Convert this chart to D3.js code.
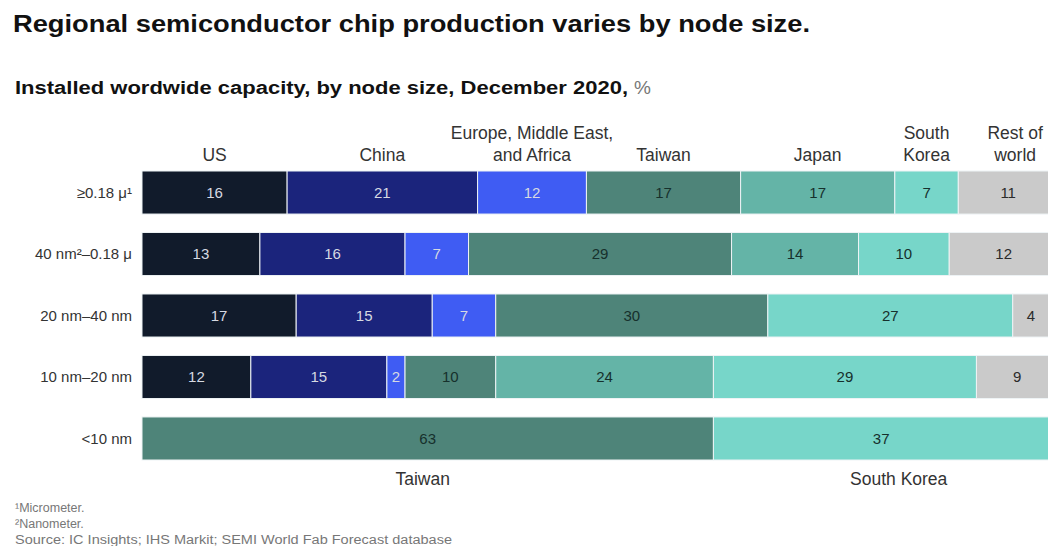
<!DOCTYPE html>
<html>
<head>
<meta charset="utf-8">
<script src="https://cdn.jsdelivr.net/npm/d3@7"></script>
<style>
  html, body { margin: 0; padding: 0; background: #fff; }
  svg { display: block; font-family: "Liberation Sans", Arial, sans-serif; }
</style>
</head>
<body>
<svg id="chart" width="1048" height="546"></svg>
<script>
// Node-size categories (rows)
const nodes = ["≥0.18 μ¹", "40 nm²–0.18 μ", "20 nm–40 nm", "10 nm–20 nm", "<10 nm"];
// Regions (stack order, left to right)
const regions = ["US", "China", "Europe, Middle East, and Africa", "Taiwan", "Japan", "South Korea", "Rest of world"];
// Installed capacity share, %, per region for each node row
const us     = [16, 13, 17, 12, 0];
const china  = [21, 16, 15, 15, 0];
const emea   = [12, 7, 7, 2, 0];
const taiwan = [17, 29, 30, 10, 63];
const japan  = [17, 14, 0, 24, 0];
const korea  = [7, 10, 27, 29, 37];
const rest   = [11, 12, 4, 9, 0];
// Column header lines
const headerLines = [["US"], ["China"], ["Europe, Middle East,", "and Africa"], ["Taiwan"], ["Japan"], ["South", "Korea"], ["Rest of", "world"]];
const footnotes = ["¹Micrometer.", "²Nanometer.", "Source: IC Insights; IHS Markit; SEMI World Fab Forecast database"];

const colors = ["#111b2b", "#1b247c", "#3f5cf3", "#4e8479", "#64b4a7", "#77d6c9", "#cacaca"];
const textColors = ["#d6d9e2", "#d6d9e2", "#d6d9e2", "#16302c", "#16302c", "#16302c", "#2b2b2b"];

const series = [us, china, emea, taiwan, japan, korea, rest];
const rows = nodes.map((n, i) => {
  const r = { node: n };
  regions.forEach((g, j) => r[g] = series[j][i]);
  return r;
});

const W = 1048, H = 546;
const svg = d3.select("#chart");

const x = d3.scaleLinear().domain([0, 100]).range([142, 1049]);
const y = d3.scaleBand().domain(nodes).range([171, 460]).paddingInner(0.3).paddingOuter(0);

const stack = d3.stack().keys(regions)(rows);

// Title and subtitle
svg.append("text").attr("x", 13).attr("y", 32)
  .attr("font-size", 23).attr("font-weight", 700).attr("fill", "#111")
  .attr("textLength", 797).attr("lengthAdjust", "spacingAndGlyphs")
  .text("Regional semiconductor chip production varies by node size.");
svg.append("text").attr("x", 15).attr("y", 94)
  .attr("font-size", 18).attr("font-weight", 700).attr("fill", "#111")
  .attr("textLength", 613).attr("lengthAdjust", "spacingAndGlyphs")
  .text("Installed wordwide capacity, by node size, December 2020,");
svg.append("text").attr("x", 634).attr("y", 94)
  .attr("font-size", 19).attr("fill", "#777")
  .text("%");

// Stacked bars
const g = svg.append("g");
stack.forEach((layer, k) => {
  layer.forEach((d, i) => {
    const v = d[1] - d[0];
    if (v <= 0) return;
    const row = nodes[i];
    g.append("rect")
      .attr("x", x(d[0]))
      .attr("y", y(row))
      .attr("width", x(d[1]) - x(d[0]))
      .attr("height", y.bandwidth())
      .attr("fill", colors[k])
      .attr("stroke", "#eef3f5").attr("stroke-width", 1);
    g.append("text")
      .attr("x", (x(d[0]) + x(d[1])) / 2)
      .attr("y", y(row) + y.bandwidth() / 2)
      .attr("dy", "0.36em")
      .attr("text-anchor", "middle")
      .attr("font-size", 15)
      .attr("fill", textColors[k])
      .text(v);
  });
});

// Row labels
svg.append("g").selectAll("text").data(nodes).join("text")
  .attr("x", 132)
  .attr("y", d => y(d) + y.bandwidth() / 2)
  .attr("dy", "0.36em")
  .attr("text-anchor", "end")
  .attr("font-size", 15)
  .attr("fill", "#333")
  .text(d => d);

// Column headers above the first row
const headerG = svg.append("g");
stack.forEach((layer, k) => {
  const d = layer[0];
  let cx = (x(d[0]) + Math.min(x(d[1]), W)) / 2;
  if (k === regions.length - 1) cx += 12;
  const lines = headerLines[k];
  lines.forEach((ln, li) => {
    headerG.append("text")
      .attr("x", cx)
      .attr("y", 161 - (lines.length - 1 - li) * 22)
      .attr("text-anchor", "middle")
      .attr("font-size", 17.5)
      .attr("fill", "#333")
      .text(ln);
  });
});

// Region labels under the last row
const last = nodes.length - 1;
[3, 5].forEach(k => {
  const d = stack[k][last];
  let cx = (x(d[0]) + Math.min(x(d[1]), W)) / 2;
  if (k === 5) cx += 18;
  svg.append("text")
    .attr("x", cx - (k === 3 ? 5 : 0))
    .attr("y", 485)
    .attr("text-anchor", "middle")
    .attr("font-size", 17.5)
    .attr("fill", "#333")
    .text(regions[k]);
});

// Footnotes
svg.append("g").selectAll("text").data(footnotes).join("text")
  .attr("x", 15)
  .attr("y", (d, i) => 512 + i * 16)
  .attr("font-size", 12.5)
  .attr("fill", "#777")
  .attr("textLength", (d, i) => i === 2 ? 437 : null)
  .attr("lengthAdjust", "spacingAndGlyphs")
  .text(d => d);
</script>
</body>
</html>
